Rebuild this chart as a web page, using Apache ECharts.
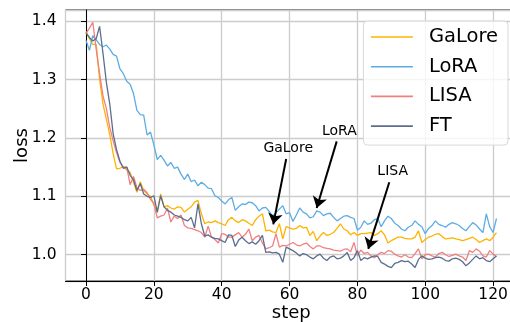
<!DOCTYPE html>
<html>
<head>
<meta charset="utf-8">
<script src="https://cdn.jsdelivr.net/npm/echarts@6/dist/echarts.min.js"></script>
<style>
  html, body { margin: 0; padding: 0; background: #fff; }
  #chart { width: 510px; height: 322px; }
</style>
</head>
<body>
<div id="chart"></div>
<script>
const steps = [];
for (let i = 0; i <= 121; i++) steps.push(i);

const galore = [
  1.382, 1.370, 1.360, 1.360, 1.300, 1.258, 1.232, 1.205, 1.173, 1.147,
  1.148, 1.151, 1.145, 1.141, 1.124, 1.107, 1.125, 1.110, 1.104, 1.100,
  1.085, 1.072, 1.104, 1.082, 1.084, 1.080, 1.078, 1.082, 1.081, 1.073,
  1.078, 1.082, 1.090, 1.093, 1.070, 1.053, 1.056, 1.055, 1.058, 1.055,
  1.053, 1.050, 1.060, 1.064, 1.058, 1.055, 1.060, 1.058, 1.054, 1.050,
  1.060, 1.066, 1.070, 1.041, 1.042, 1.039, 1.038, 1.053, 1.027, 1.048,
  1.046, 1.044, 1.045, 1.050, 1.046, 1.047, 1.033, 1.040, 1.024, 1.032,
  1.038, 1.033, 1.035, 1.038, 1.045, 1.053, 1.044, 1.041, 1.034, 1.038,
  1.033, 1.036, 1.036, 1.037, 1.038, 1.033, 1.036, 1.041, 1.034, 1.020,
  1.024, 1.027, 1.030, 1.030, 1.028, 1.027, 1.027, 1.030, 1.041, 1.021,
  1.026, 1.030, 1.032, 1.035, 1.036, 1.031, 1.027, 1.028, 1.029, 1.027,
  1.026, 1.024, 1.026, 1.028, 1.030, 1.026, 1.021, 1.024, 1.027, 1.024,
  1.030, 1.038
];

const lora = [
  1.367, 1.350, 1.375, 1.368, 1.360, 1.356, 1.359, 1.352, 1.343, 1.340,
  1.318, 1.310, 1.297, 1.292, 1.276, 1.247, 1.240, 1.239, 1.205, 1.210,
  1.188, 1.163, 1.170, 1.162, 1.152, 1.158, 1.148, 1.150, 1.138, 1.129,
  1.138, 1.125, 1.128, 1.118, 1.124, 1.120, 1.114, 1.113, 1.101, 1.098,
  1.092, 1.087, 1.094, 1.098, 1.076, 1.082, 1.087, 1.086, 1.090, 1.089,
  1.084, 1.075, 1.080, 1.081, 1.074, 1.066, 1.072, 1.078, 1.084, 1.070,
  1.072, 1.057, 1.068, 1.080, 1.073, 1.070, 1.063, 1.065, 1.075, 1.073,
  1.067, 1.070, 1.071, 1.064, 1.058, 1.062, 1.066, 1.067, 1.064, 1.062,
  1.042, 1.047, 1.058, 1.052, 1.054, 1.060, 1.062, 1.048, 1.058, 1.066,
  1.062, 1.054, 1.050, 1.044, 1.041, 1.047, 1.050, 1.058, 1.052, 1.048,
  1.036, 1.045, 1.050, 1.058, 1.052, 1.050, 1.047, 1.052, 1.055, 1.053,
  1.050, 1.045, 1.041, 1.048, 1.055, 1.051, 1.044, 1.038, 1.070, 1.048,
  1.038, 1.062
];

const lisa = [
  1.379, 1.388, 1.398, 1.352, 1.310, 1.272, 1.250, 1.218, 1.195, 1.175,
  1.158, 1.150, 1.150, 1.120, 1.134, 1.115, 1.110, 1.112, 1.106, 1.095,
  1.088, 1.063, 1.066, 1.068, 1.080, 1.056, 1.066, 1.062, 1.068, 1.050,
  1.046, 1.045, 1.043, 1.041, 1.038, 1.030, 1.049, 1.030, 1.026, 1.020,
  1.036, 1.035, 1.030, 1.030, 1.034, 1.038, 1.030, 1.035, 1.044, 1.024,
  1.030, 1.033, 1.020, 1.010, 1.012, 1.015, 1.036, 1.013, 1.016, 1.015,
  1.018, 1.021, 1.017, 1.015, 1.018, 1.020, 1.014, 1.010, 1.015, 1.015,
  1.012, 1.011, 1.010, 1.008, 1.007, 1.006, 1.009, 1.010, 1.005, 1.021,
  0.998, 1.008, 1.002, 1.004, 0.998, 0.995, 1.000, 1.004, 1.002, 1.007,
  1.006, 1.001, 0.998, 0.996, 1.000, 0.996, 0.995, 1.002, 1.010, 0.993,
  1.000, 1.001, 0.998, 0.996, 1.002, 1.004, 1.000, 0.997, 0.999, 1.001,
  0.998, 0.996, 0.990, 1.007, 1.004, 1.010, 1.006, 0.998, 0.996, 1.007,
  1.001, 0.997
];

const ft = [
  1.380, 1.372, 1.366, 1.370, 1.391, 1.345, 1.295, 1.258, 1.207, 1.180,
  1.160, 1.148, 1.150, 1.136, 1.128, 1.110, 1.122, 1.104, 1.100, 1.098,
  1.101, 1.073, 1.101, 1.082, 1.076, 1.073, 1.068, 1.066, 1.064, 1.060,
  1.058, 1.064, 1.046, 1.087, 1.053, 1.032, 1.034, 1.030, 1.028, 1.027,
  1.024, 1.021, 1.034, 1.033, 1.014, 1.025, 1.030, 1.024, 1.019, 1.022,
  1.018, 1.024, 1.033, 1.004, 1.005, 1.003, 1.004, 1.001, 0.987, 1.013,
  1.010, 1.007, 1.003, 0.998, 1.002, 1.000, 0.996, 0.993, 0.998, 1.001,
  0.994, 0.990, 0.996, 0.998, 0.993, 0.994, 0.998, 1.004, 0.990, 0.995,
  1.007, 0.990, 0.995, 0.993, 0.996, 0.998, 0.997, 0.987, 0.984, 0.980,
  0.978, 0.985, 0.987, 0.990, 0.988, 0.989, 0.984, 0.978, 0.992, 0.998,
  0.994, 0.992, 0.993, 0.995, 0.996, 0.994, 0.990, 0.989, 0.993, 0.994,
  0.992, 0.988, 0.981, 0.986, 0.992, 0.998, 0.993, 0.995, 0.990, 0.988,
  0.993, 0.998
];

// annotation text + arrow (text pos, arrow start, arrow tip) in data coords
const notes = [
  { name: 'GaLore', text: [59.6, 1.182], from: [59.0, 1.164], to: [55.2, 1.052] },
  { name: 'LoRA', text: [74.7, 1.212], from: [73.9, 1.194], to: [68.0, 1.080] },
  { name: 'LISA', text: [90.4, 1.143], from: [89.4, 1.124], to: [83.2, 1.010] }
];

const font = 'DejaVu Sans';

function mkSeries(name, vals, color) {
  return {
    name: name,
    type: 'line',
    data: steps.map((s, i) => [s, vals[i]]),
    symbol: 'none',
    lineStyle: { color: color, width: 1.3 },
    itemStyle: { color: color },
    silent: true
  };
}

const chart = echarts.init(document.getElementById('chart'), null, { renderer: 'canvas' });

const series = [
  mkSeries('GaLore', galore, '#FFB300'),
  mkSeries('LoRA', lora, '#5DADE2'),
  mkSeries('LISA', lisa, '#F08080'),
  mkSeries('FT', ft, '#5B6E8E')
];

series[3].markLine = {
  silent: true,
  symbol: ['none', 'arrow'],
  symbolSize: 11,
  lineStyle: { color: '#000', width: 2, type: 'solid' },
  itemStyle: { color: '#000' },
  label: { show: false },
  data: notes.map(n => [{ coord: n.from }, { coord: n.to }])
};
series[3].markPoint = {
  silent: true,
  symbol: 'circle',
  symbolSize: 0,
  label: { show: true, formatter: '{b}', color: '#000', fontSize: 14, fontFamily: font },
  data: notes.map(n => ({ name: n.name, coord: n.text }))
};

chart.setOption({
  animation: false,
  backgroundColor: '#fff',
  grid: {
    left: 65.5, top: 10, right: -7, bottom: 41,
    containLabel: false, outerBoundsMode: 'none',
    show: true, borderColor: '#000', borderWidth: 1
  },
  legend: {
    right: 2, top: 21,
    orient: 'vertical',
    data: ['GaLore', 'LoRA', 'LISA', 'FT'],
    icon: 'rect',
    itemWidth: 42, itemHeight: 1.6, itemGap: 7.7,
    padding: [5, 10, 8, 7.5],
    backgroundColor: 'rgba(255,255,255,0.8)',
    borderColor: '#d8d8d8', borderWidth: 1, borderRadius: 4,
    textStyle: { fontFamily: font, fontSize: 19.5, color: '#000', lineHeight: 22, padding: [0, 0, 0, 11] }
  },
  xAxis: {
    type: 'value',
    min: -6.05, max: 127.05,
    minInterval: 20, maxInterval: 20,
    name: 'step', nameLocation: 'middle', nameGap: 23.5, nameMoveOverlap: false,
    nameTextStyle: { fontFamily: font, fontSize: 18, color: '#000' },
    axisLine: { show: true, lineStyle: { color: '#000', width: 1 } },
    axisTick: { show: true, length: 5, lineStyle: { color: '#000' } },
    axisLabel: { fontFamily: font, fontSize: 15.5, color: '#000', margin: 6, showMinLabel: false, showMaxLabel: false },
    splitLine: { show: true, lineStyle: { color: '#cccccc', width: 1.3 } }
  },
  yAxis: {
    type: 'value',
    min: 0.955, max: 1.419,
    minInterval: 0.1, maxInterval: 0.1,
    name: 'loss', nameLocation: 'middle', nameGap: 34, nameMoveOverlap: false,
    nameTextStyle: { fontFamily: font, fontSize: 18, color: '#000' },
    axisLine: { show: true, lineStyle: { color: '#000', width: 1 } },
    axisTick: { show: true, length: 5, lineStyle: { color: '#000' } },
    axisLabel: { fontFamily: font, fontSize: 15.5, color: '#000', margin: 9, showMinLabel: false, showMaxLabel: false,
      formatter: v => v.toFixed(1) },
    splitLine: { show: true, lineStyle: { color: '#cccccc', width: 1.3 } }
  },
  series: series
});
</script>
</body>
</html>
